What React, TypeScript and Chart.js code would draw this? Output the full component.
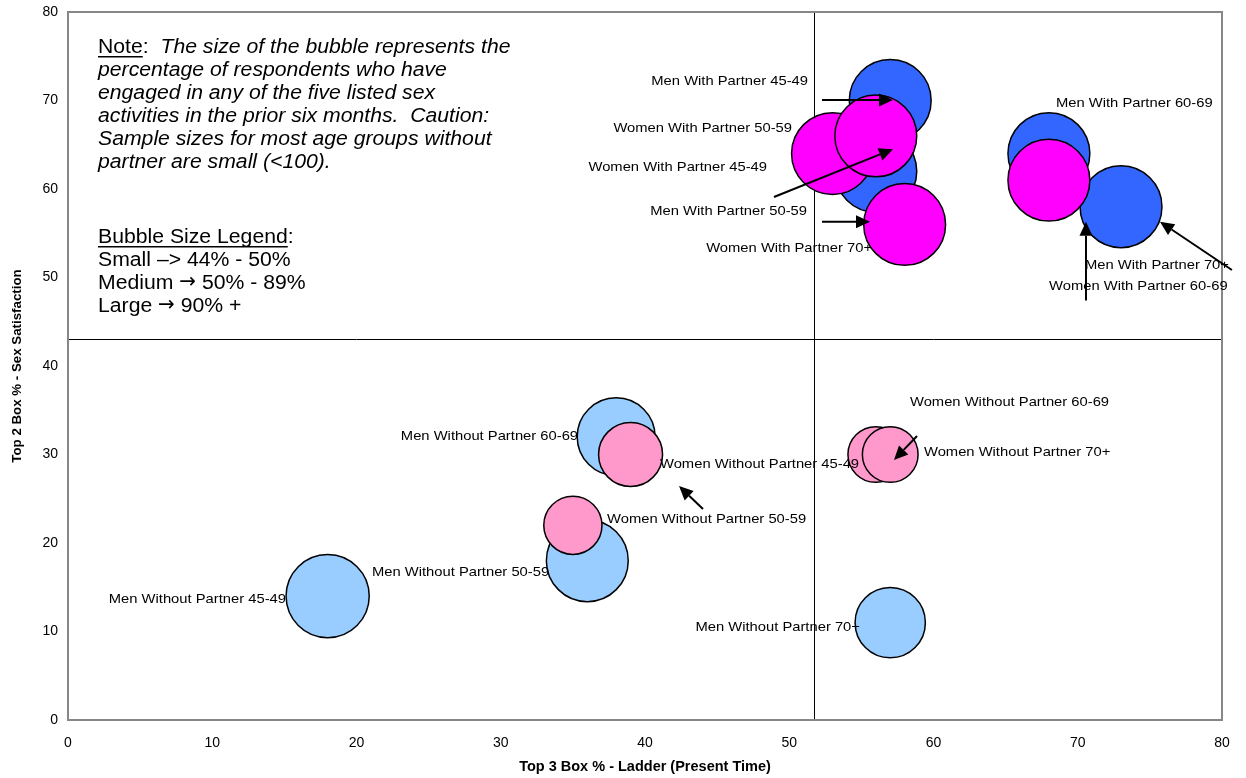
import React, { useEffect, useRef } from "react";
import { Chart, registerables } from "chart.js";

Chart.register(...registerables);

const FONT = "'Liberation Sans', Arial, Helvetica, sans-serif";

// ---------- data ----------
const ageGroups = ["45-49", "50-59", "60-69", "70+"];
const seriesNames = ["Men With Partner", "Women With Partner", "Men Without Partner", "Women Without Partner"];
const seriesColors = ["#3366FF", "#FF00FF", "#99CCFF", "#FF99CC"];

// x = Top 3 Box % - Ladder, y = Top 2 Box % - Sex Satisfaction, size = % engaged in activities
const menWithX = [57, 56, 68, 73];
const menWithY = [70, 62, 64, 58];
const menWithSize = [95, 95, 95, 95];

const womenWithX = [53, 56, 68, 58];
const womenWithY = [64, 66, 61, 56];
const womenWithSize = [95, 95, 95, 95];

const menWithoutX = [18, 36, 38, 57];
const menWithoutY = [14, 18, 32, 11];
const menWithoutSize = [98, 95, 86, 70];

const womenWithoutX = [39, 35, 56, 57];
const womenWithoutY = [30, 22, 30, 30];
const womenWithoutSize = [58, 48, 44, 44];

const xTicks = [0, 10, 20, 30, 40, 50, 60, 70, 80];
const yTicks = [0, 10, 20, 30, 40, 50, 60, 70, 80];
const quadrantX = 51.7;
const quadrantY = 43;

const xTitle = "Top 3 Box % - Ladder (Present Time)";
const yTitle = "Top 2 Box % - Sex Satisfaction";

const noteLines = [
  "The size of the bubble represents the",
  "percentage of respondents who have",
  "engaged in any of the five listed sex",
  "activities in the prior six months.  Caution:",
  "Sample sizes for most age groups without",
  "partner are small (<100).",
];
const legendTitle = "Bubble Size Legend";
const legendLines = [
  ["Small \u2013> 44% - 50%"],
  ["Medium ", "\u2192", " 50% - 89%"],
  ["Large ", "\u2192", " 90% +"],
];

// ---------- label / arrow placement (in axis units) ----------
type Placement = { s: number; i: number; x: number; y: number; align: CanvasTextAlign };
const labelPlacements: Placement[] = [
  { s: 0, i: 0, x: 51.3, y: 72.2, align: "right" },
  { s: 1, i: 1, x: 50.19, y: 66.9, align: "right" },
  { s: 1, i: 0, x: 48.46, y: 62.4, align: "right" },
  { s: 0, i: 1, x: 51.23, y: 57.5, align: "right" },
  { s: 1, i: 3, x: 55.74, y: 53.3, align: "right" },
  { s: 0, i: 2, x: 68.49, y: 69.7, align: "left" },
  { s: 0, i: 3, x: 70.5, y: 51.4, align: "left" },
  { s: 1, i: 2, x: 68.01, y: 49.0, align: "left" },
  { s: 2, i: 2, x: 35.36, y: 32.1, align: "right" },
  { s: 3, i: 0, x: 41.04, y: 28.9, align: "left" },
  { s: 3, i: 1, x: 37.37, y: 22.7, align: "left" },
  { s: 2, i: 1, x: 21.07, y: 16.7, align: "left" },
  { s: 2, i: 0, x: 15.11, y: 13.6, align: "right" },
  { s: 3, i: 2, x: 58.37, y: 35.9, align: "left" },
  { s: 3, i: 3, x: 59.34, y: 30.3, align: "left" },
  { s: 2, i: 3, x: 54.9, y: 10.5, align: "right" },
];

const arrows: number[][] = [
  [52.27, 70.06, 57.19, 70.06],
  [48.94, 59.1, 57.19, 64.5],
  [52.27, 56.3, 55.6, 56.3],
  [80.69, 50.85, 75.7, 56.3],
  [70.57, 47.4, 70.57, 56.3],
  [44.02, 23.84, 42.36, 26.44],
  [58.86, 32.09, 57.26, 29.38],
];

const MAX_R = 42;
const radiusFor = (size: number) => MAX_R * Math.sqrt(size / 100);

const build = (xs: number[], ys: number[], sizes: number[]) =>
  xs.map((x, i) => ({ x, y: ys[i], r: radiusFor(sizes[i]) }));

function drawText(
  ctx: CanvasRenderingContext2D,
  text: string,
  x: number,
  y: number,
  font: string,
  hs: number,
  align: CanvasTextAlign = "left"
) {
  ctx.save();
  ctx.font = font;
  ctx.textAlign = align;
  ctx.textBaseline = "middle";
  ctx.translate(x, y);
  ctx.scale(hs, 1);
  ctx.fillText(text, 0, 0);
  const w = ctx.measureText(text).width * hs;
  ctx.restore();
  return w;
}

const overlayPlugin = {
  id: "overlay",
  beforeDatasetsDraw(chart: any) {
    const { ctx, chartArea: a, scales } = chart;
    const xs = scales.x;
    const ys = scales.y;
    ctx.save();
    ctx.strokeStyle = "#000";
    ctx.lineWidth = 1;
    const qx = Math.round(xs.getPixelForValue(quadrantX)) + 0.5;
    const qy = Math.round(ys.getPixelForValue(quadrantY)) + 0.5;
    ctx.beginPath();
    ctx.moveTo(qx, a.top);
    ctx.lineTo(qx, a.bottom);
    ctx.moveTo(a.left, qy);
    ctx.lineTo(a.right, qy);
    ctx.stroke();
    ctx.strokeStyle = "#878787";
    ctx.lineWidth = 2;
    ctx.strokeRect(a.left, a.top, a.right - a.left, a.bottom - a.top);
    ctx.restore();
  },
  afterDatasetsDraw(chart: any) {
    const { ctx, chartArea: a, scales } = chart;
    const xs = scales.x;
    const ys = scales.y;
    ctx.save();
    ctx.fillStyle = "#000";

    // data labels
    const lblFont = `13.3px ${FONT}`;
    labelPlacements.forEach((p) => {
      const text = `${seriesNames[p.s]} ${ageGroups[p.i]}`;
      drawText(ctx, text, xs.getPixelForValue(p.x), ys.getPixelForValue(p.y), lblFont, 1.11, p.align);
    });

    // arrows
    ctx.strokeStyle = "#000";
    ctx.lineWidth = 2;
    arrows.forEach(([x1, y1, x2, y2]) => {
      const px1 = xs.getPixelForValue(x1);
      const py1 = ys.getPixelForValue(y1);
      const px2 = xs.getPixelForValue(x2);
      const py2 = ys.getPixelForValue(y2);
      const ang = Math.atan2(py2 - py1, px2 - px1);
      const hl = 14;
      const hw = 6.5;
      const bx = px2 - hl * Math.cos(ang);
      const by = py2 - hl * Math.sin(ang);
      ctx.beginPath();
      ctx.moveTo(px1, py1);
      ctx.lineTo(bx, by);
      ctx.stroke();
      ctx.beginPath();
      ctx.moveTo(px2, py2);
      ctx.lineTo(bx + hw * Math.sin(ang), by - hw * Math.cos(ang));
      ctx.lineTo(bx - hw * Math.sin(ang), by + hw * Math.cos(ang));
      ctx.closePath();
      ctx.fill();
    });

    // note box
    const hs = 1.06;
    const reg = `20px ${FONT}`;
    const ital = `italic 20px ${FONT}`;
    const arrowFont = `21px 'DejaVu Sans', sans-serif`;
    const x0 = a.left + 30;
    let y = a.top + 35;
    const lh = 23;
    let w = drawText(ctx, "Note", x0, y, reg, hs);
    ctx.fillRect(x0, y + 9, w, 1.5);
    const w2 = drawText(ctx, ":", x0 + w, y, reg, hs);
    drawText(ctx, "  " + noteLines[0], x0 + w + w2, y, ital, hs);
    for (let i = 1; i < noteLines.length; i++) {
      y += lh;
      drawText(ctx, noteLines[i], x0, y, ital, hs);
    }
    y = a.top + 225;
    w = drawText(ctx, legendTitle, x0, y, reg, hs);
    ctx.fillRect(x0, y + 9, w, 1.5);
    drawText(ctx, ":", x0 + w, y, reg, hs);
    legendLines.forEach((parts) => {
      y += lh;
      let cx = x0;
      parts.forEach((t) => {
        const isArrow = t === "\u2192";
        cx += drawText(ctx, t, cx, y, isArrow ? arrowFont : reg, isArrow ? 0.95 : hs);
      });
    });
    ctx.restore();
  },
};

export default function App() {
  const ref = useRef<HTMLCanvasElement>(null);
  useEffect(() => {
    document.body.style.margin = "0";
    const border = { borderColor: "#000", borderWidth: 1.5 };
    const chart = new Chart(ref.current as HTMLCanvasElement, {
      type: "bubble",
      data: {
        datasets: [
          { label: seriesNames[0], data: build(menWithX, menWithY, menWithSize), backgroundColor: seriesColors[0], order: 1, ...border },
          { label: seriesNames[1], data: build(womenWithX, womenWithY, womenWithSize), backgroundColor: seriesColors[1], order: 0, ...border },
          { label: seriesNames[2], data: build(menWithoutX, menWithoutY, menWithoutSize), backgroundColor: seriesColors[2], order: 1, ...border },
          { label: seriesNames[3], data: build(womenWithoutX, womenWithoutY, womenWithoutSize), backgroundColor: seriesColors[3], order: 0, ...border },
        ],
      },
      options: {
        responsive: false,
        animation: false,
        devicePixelRatio: 1,
        layout: { autoPadding: false, padding: { left: 0, right: 24, top: 12, bottom: 0 } },
        plugins: { legend: { display: false }, tooltip: { enabled: false } },
        events: [],
        scales: {
          x: {
            type: "linear",
            min: 0,
            max: 80,
            afterFit: (s: any) => {
              s.height = 58;
              s.paddingLeft = 0;
              s.paddingRight = 0;
            },
            afterBuildTicks: (s: any) => {
              s.ticks = xTicks.map((v) => ({ value: v }));
            },
            grid: { display: false, drawTicks: false },
            border: { display: false },
            ticks: { padding: 15, color: "#000", font: { family: FONT, size: 14 } },
            title: {
              display: true,
              text: xTitle,
              color: "#000",
              font: { family: FONT, size: 14.5, weight: "bold" },
              padding: { top: 0, bottom: 2 },
            },
          },
          y: {
            type: "linear",
            min: 0,
            max: 80,
            afterFit: (s: any) => {
              s.width = 68;
              s.paddingTop = 0;
              s.paddingBottom = 0;
            },
            afterBuildTicks: (s: any) => {
              s.ticks = yTicks.map((v) => ({ value: v }));
            },
            grid: { display: false, drawTicks: false },
            border: { display: false },
            ticks: { padding: 10, color: "#000", font: { family: FONT, size: 14 } },
            title: {
              display: true,
              text: yTitle,
              color: "#000",
              font: { family: FONT, size: 13.3, weight: "bold" },
              padding: { top: 9, bottom: 0 },
            },
          },
        },
      },
      plugins: [overlayPlugin],
    } as any);
    return () => chart.destroy();
  }, []);
  return (
    <div style={{ width: 1246, height: 778, background: "#fff" }}>
      <canvas ref={ref} width={1246} height={778} style={{ display: "block" }} />
    </div>
  );
}
